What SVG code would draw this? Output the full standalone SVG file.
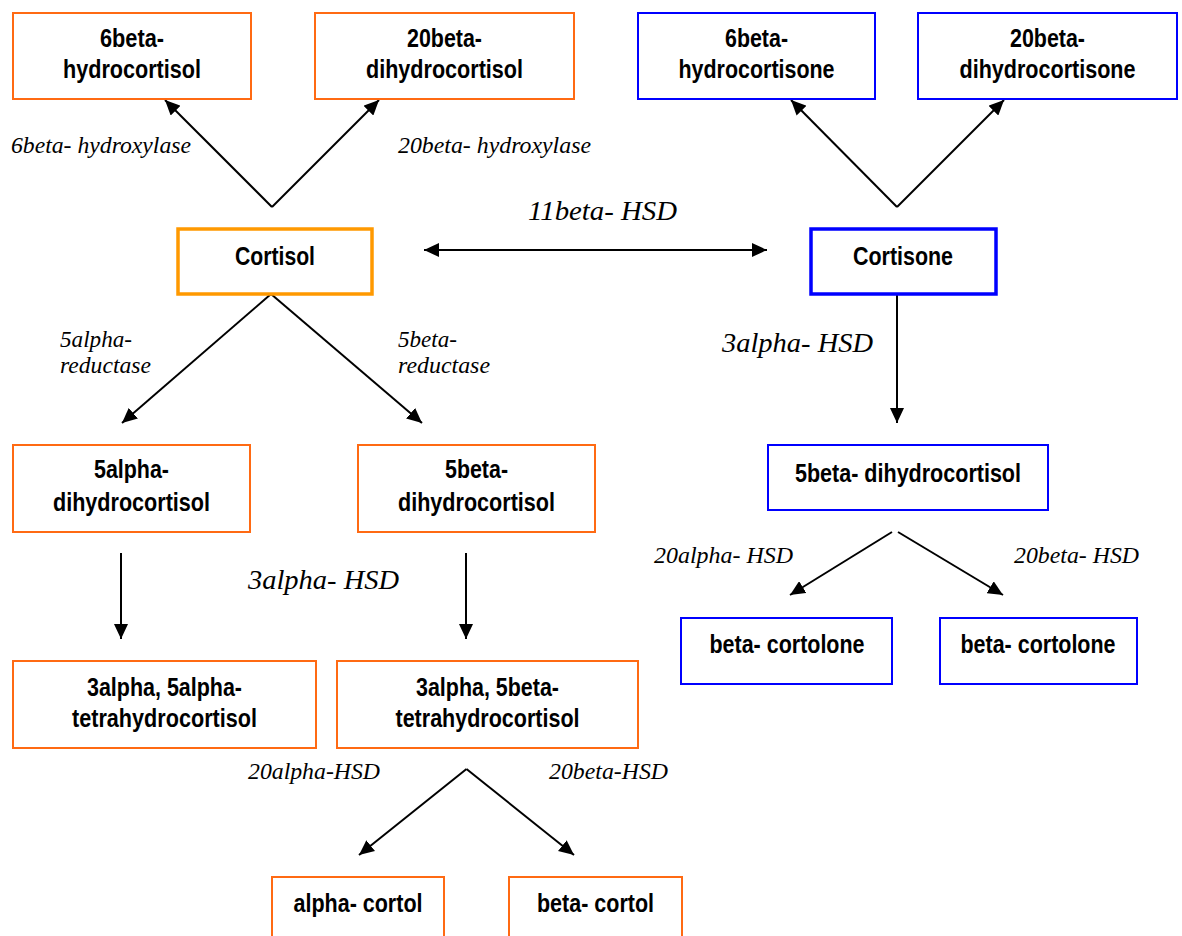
<svg xmlns="http://www.w3.org/2000/svg" width="1182" height="936" viewBox="0 0 1182 936">
<style>
.bg{fill:#ffffff}
.or{fill:#ffffff;stroke:#FF6A13;stroke-width:2}
.or2{fill:#ffffff;stroke:#FF9900;stroke-width:3.5}
.bl{fill:#ffffff;stroke:#0000FF;stroke-width:2}
.bl2{fill:#ffffff;stroke:#0000FF;stroke-width:3.5}
.t{font-family:"Liberation Sans Narrow","Arial Narrow","Liberation Sans",Arial,sans-serif;font-weight:bold;font-size:26px;fill:#000;text-anchor:middle}
.l{font-family:"Liberation Serif","Times New Roman",serif;font-style:italic;font-size:23px;fill:#000}
.L{font-family:"Liberation Serif","Times New Roman",serif;font-style:italic;font-size:28px;fill:#000}
.c line{stroke:#000;stroke-width:2;fill:none}
</style>
<defs>
<marker id="ah" markerUnits="userSpaceOnUse" markerWidth="16" markerHeight="14" refX="15" refY="7" orient="auto-start-reverse">
<path d="M0,0 L15,7 L0,14 z" fill="#000"/>
</marker>
</defs>
<rect class="bg" x="0" y="0" width="1182" height="936"/>

<g class="c" id="connectors">
<line x1="272" y1="207" x2="165" y2="100" marker-end="url(#ah)"/>
<line x1="272" y1="207" x2="379" y2="100" marker-end="url(#ah)"/>
<line x1="897" y1="207" x2="791" y2="100" marker-end="url(#ah)"/>
<line x1="897" y1="207" x2="1004" y2="100" marker-end="url(#ah)"/>
<line x1="424" y1="250" x2="767" y2="250" marker-start="url(#ah)" marker-end="url(#ah)"/>
<line x1="271" y1="294" x2="122" y2="423" marker-end="url(#ah)"/>
<line x1="271" y1="294" x2="422" y2="423" marker-end="url(#ah)"/>
<line x1="897" y1="294" x2="897" y2="423" marker-end="url(#ah)"/>
<line x1="121" y1="553" x2="121" y2="639" marker-end="url(#ah)"/>
<line x1="466" y1="553" x2="466" y2="639" marker-end="url(#ah)"/>
<line x1="892" y1="532" x2="790" y2="595" marker-end="url(#ah)"/>
<line x1="898" y1="532" x2="1003" y2="595" marker-end="url(#ah)"/>
<line x1="466.5" y1="769" x2="359" y2="855" marker-end="url(#ah)"/>
<line x1="466.5" y1="769" x2="574" y2="855" marker-end="url(#ah)"/>
</g>

<g id="labels">
<text class="l" x="11" y="153" textLength="180" lengthAdjust="spacingAndGlyphs">6beta- hydroxylase</text>
<text class="l" x="398" y="153" textLength="193" lengthAdjust="spacingAndGlyphs">20beta- hydroxylase</text>
<text class="L" x="528" y="220" textLength="149" lengthAdjust="spacingAndGlyphs">11beta- HSD</text>
<text class="l" x="60" y="347" textLength="72" lengthAdjust="spacingAndGlyphs">5alpha-</text>
<text class="l" x="60" y="373" textLength="91" lengthAdjust="spacingAndGlyphs">reductase</text>
<text class="l" x="398" y="347" textLength="59" lengthAdjust="spacingAndGlyphs">5beta-</text>
<text class="l" x="398" y="373" textLength="92" lengthAdjust="spacingAndGlyphs">reductase</text>
<text class="L" x="722" y="352" textLength="151" lengthAdjust="spacingAndGlyphs">3alpha- HSD</text>
<text class="L" x="248" y="589" textLength="151" lengthAdjust="spacingAndGlyphs">3alpha- HSD</text>
<text class="l" x="654" y="563" textLength="139" lengthAdjust="spacingAndGlyphs">20alpha- HSD</text>
<text class="l" x="1014" y="563" textLength="125" lengthAdjust="spacingAndGlyphs">20beta- HSD</text>
<text class="l" x="248" y="779" textLength="132" lengthAdjust="spacingAndGlyphs">20alpha-HSD</text>
<text class="l" x="549" y="779" textLength="119" lengthAdjust="spacingAndGlyphs">20beta-HSD</text>
</g>

<g id="n-6beta-hydrocortisol">
<rect class="or" x="13" y="13" width="238" height="86"/>
<text class="t" x="132" y="47" textLength="64" lengthAdjust="spacingAndGlyphs">6beta-</text>
<text class="t" x="132" y="78" textLength="138" lengthAdjust="spacingAndGlyphs">hydrocortisol</text>
</g>
<g id="n-20beta-dihydrocortisol">
<rect class="or" x="315" y="13" width="259" height="86"/>
<text class="t" x="444.5" y="47" textLength="75" lengthAdjust="spacingAndGlyphs">20beta-</text>
<text class="t" x="444.5" y="78" textLength="157" lengthAdjust="spacingAndGlyphs">dihydrocortisol</text>
</g>
<g id="n-6beta-hydrocortisone">
<rect class="bl" x="638" y="13" width="237" height="86"/>
<text class="t" x="756.5" y="47" textLength="63" lengthAdjust="spacingAndGlyphs">6beta-</text>
<text class="t" x="756.5" y="78" textLength="156" lengthAdjust="spacingAndGlyphs">hydrocortisone</text>
</g>
<g id="n-20beta-dihydrocortisone">
<rect class="bl" x="918" y="13" width="259" height="86"/>
<text class="t" x="1047.5" y="47" textLength="75" lengthAdjust="spacingAndGlyphs">20beta-</text>
<text class="t" x="1047.5" y="78" textLength="176" lengthAdjust="spacingAndGlyphs">dihydrocortisone</text>
</g>
<g id="n-cortisol">
<rect class="or2" x="178" y="229" width="194" height="65"/>
<text class="t" x="275" y="265" textLength="80" lengthAdjust="spacingAndGlyphs">Cortisol</text>
</g>
<g id="n-cortisone">
<rect class="bl2" x="811" y="229" width="185" height="65"/>
<text class="t" x="903" y="265" textLength="100" lengthAdjust="spacingAndGlyphs">Cortisone</text>
</g>
<g id="n-5alpha-dihydrocortisol">
<rect class="or" x="13" y="445" width="237" height="87"/>
<text class="t" x="131.5" y="478" textLength="75" lengthAdjust="spacingAndGlyphs">5alpha-</text>
<text class="t" x="131.5" y="511" textLength="157" lengthAdjust="spacingAndGlyphs">dihydrocortisol</text>
</g>
<g id="n-5beta-dihydrocortisol">
<rect class="or" x="358" y="445" width="237" height="87"/>
<text class="t" x="476.5" y="478" textLength="63" lengthAdjust="spacingAndGlyphs">5beta-</text>
<text class="t" x="476.5" y="511" textLength="157" lengthAdjust="spacingAndGlyphs">dihydrocortisol</text>
</g>
<g id="n-5beta-dihydrocortisol-blue">
<rect class="bl" x="768" y="445" width="280" height="65"/>
<text class="t" x="908" y="482" textLength="226" lengthAdjust="spacingAndGlyphs">5beta- dihydrocortisol</text>
</g>
<g id="n-beta-cortolone-1">
<rect class="bl" x="681" y="618" width="211" height="66"/>
<text class="t" x="787" y="653" textLength="155" lengthAdjust="spacingAndGlyphs">beta- cortolone</text>
</g>
<g id="n-beta-cortolone-2">
<rect class="bl" x="940" y="618" width="197" height="66"/>
<text class="t" x="1038" y="653" textLength="155" lengthAdjust="spacingAndGlyphs">beta- cortolone</text>
</g>
<g id="n-3a5a-tetrahydrocortisol">
<rect class="or" x="13" y="661" width="303" height="87"/>
<text class="t" x="164.5" y="696" textLength="155" lengthAdjust="spacingAndGlyphs">3alpha, 5alpha-</text>
<text class="t" x="164.5" y="727" textLength="185" lengthAdjust="spacingAndGlyphs">tetrahydrocortisol</text>
</g>
<g id="n-3a5b-tetrahydrocortisol">
<rect class="or" x="337" y="661" width="301" height="87"/>
<text class="t" x="487.5" y="696" textLength="143" lengthAdjust="spacingAndGlyphs">3alpha, 5beta-</text>
<text class="t" x="487.5" y="727" textLength="184" lengthAdjust="spacingAndGlyphs">tetrahydrocortisol</text>
</g>
<g id="n-alpha-cortol">
<rect class="or" x="272" y="877" width="172" height="70"/>
<text class="t" x="358" y="912" textLength="129" lengthAdjust="spacingAndGlyphs">alpha- cortol</text>
</g>
<g id="n-beta-cortol">
<rect class="or" x="509" y="877" width="173" height="70"/>
<text class="t" x="595.5" y="912" textLength="117" lengthAdjust="spacingAndGlyphs">beta- cortol</text>
</g>
</svg>
